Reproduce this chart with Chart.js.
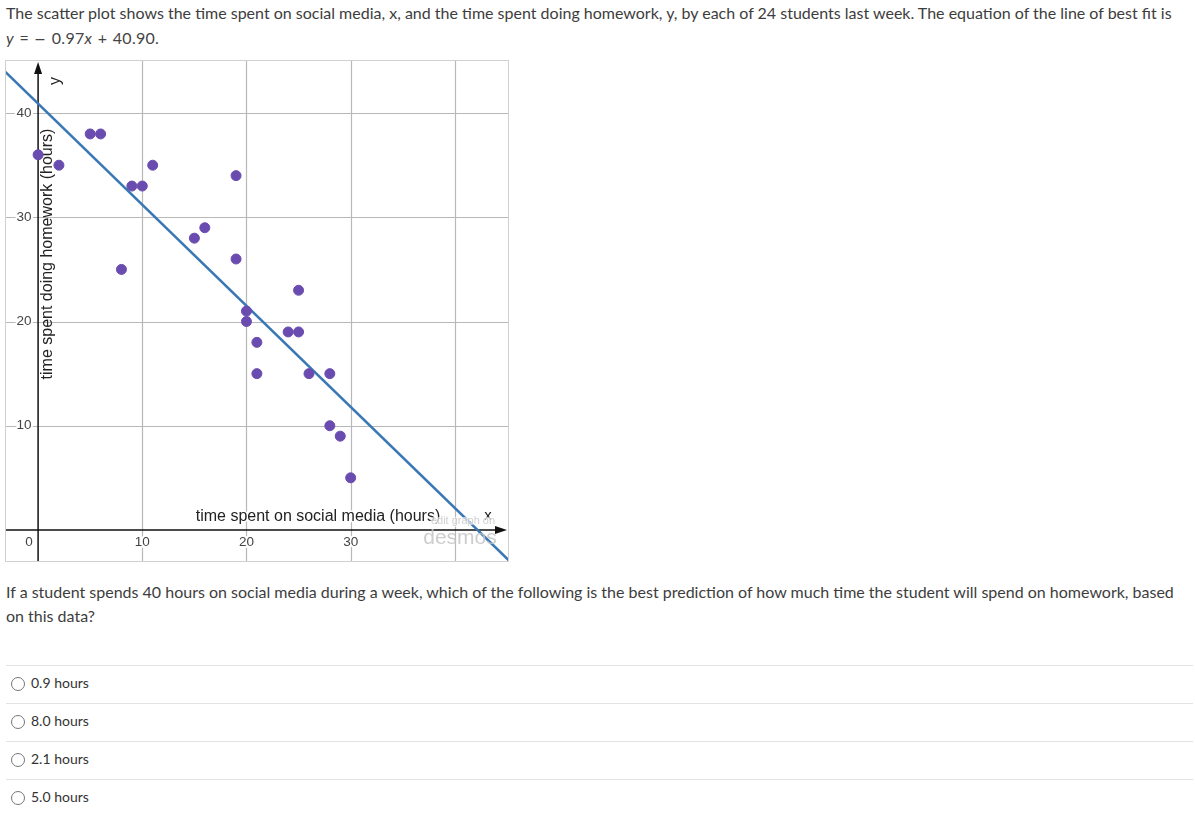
<!DOCTYPE html>
<html>
<head>
<meta charset="utf-8">
<script src="https://cdn.jsdelivr.net/npm/chart.js@4"></script>
<style>
body { margin:0; font-family: Lato, "Open Sans", sans-serif; color:#3d3d3d; font-size:16px; background:#fff; }
.prompt { position:absolute; left:6px; top:0px; width:1185px; line-height:25px; }
.prompt .eq { font-size:16px; word-spacing:1px; letter-spacing:0.3px; color:#444; }
.prompt .eq .m { font-family:"DejaVu Sans", sans-serif; font-size:14px; }
.graph { position:absolute; left:5px; top:60px; width:502px; height:500px; border:1px solid #d0d0d0; }
.question { position:absolute; left:6px; top:580px; width:1185px; line-height:24px; }
.opts { position:absolute; left:6px; top:665px; width:1187px; }
.opt { height:37px; border-top:1px solid #e3e3e3; position:relative; font-size:14px; }
.opt span.c { position:absolute; left:5px; top:11px; width:12px; height:12px; border:1px solid #777; border-radius:50%; }
.opt span.t { position:absolute; left:25px; top:8px; color:#333; }
</style>
</head>
<body>
<div class="prompt">The scatter plot shows the time spent on social media, x, and the time spent doing homework, y, by each of 24 students last week. The equation of the line of best fit is<br><span class="eq"><i>y</i> = <span class="m">−</span> 0.97<i>x</i> + 40.90.</span></div>
<div class="graph"><canvas id="c" width="502" height="500"></canvas></div>
<div class="question">If a student spends 40 hours on social media during a week, which of the following is the best prediction of how much time the student will spend on homework, based on this data?</div>
<div class="opts">
  <div class="opt"><span class="c"></span><span class="t">0.9 hours</span></div>
  <div class="opt"><span class="c"></span><span class="t">8.0 hours</span></div>
  <div class="opt"><span class="c"></span><span class="t">2.1 hours</span></div>
  <div class="opt"><span class="c"></span><span class="t">5.0 hours</span></div>
</div>
<script>
// data
let socialHours = [0, 2, 5, 6, 8, 9, 10, 11, 15, 16, 19, 19, 20, 20, 21, 21, 24, 25, 25, 26, 28, 28, 29, 30];
let homeworkHours = [36, 35, 38, 38, 25, 33, 33, 35, 28, 29, 34, 26, 21, 20, 18, 15, 19, 19, 23, 15, 15, 10, 9, 5];
let slope = -0.97;
let intercept = 40.90;
let lineEndsX = [-4, 46];
let gridX = [10, 20, 30, 40];
let gridY = [10, 20, 30, 40];
let xTickLabels = ['0', '10', '20', '30'];
let yTickLabels = ['10', '20', '30', '40'];

let pts = socialHours.map(function (x, i) { return { x: x, y: homeworkHours[i] }; });
let fitLine = lineEndsX.map(function (x) { return { x: x, y: slope * x + intercept }; });

const labelFont = '13.5px "Liberation Sans", Arial, sans-serif';

function haloText(ctx, txt, x, y, font, color, w) {
    ctx.font = font;
    if (w !== 0) {
        ctx.lineWidth = w || 4;
        ctx.strokeStyle = '#fff';
        ctx.lineJoin = 'round';
        ctx.strokeText(txt, x, y);
    }
    ctx.fillStyle = color;
    ctx.fillText(txt, x, y);
}

const desmosBits = {
    id: 'desmosBits',
    beforeDatasetsDraw: function (chart) {
        const ctx = chart.ctx;
        const xs = chart.scales.x, ys = chart.scales.y;
        const a = chart.chartArea;
        const x0 = xs.getPixelForValue(0), y0 = ys.getPixelForValue(0);
        ctx.save();
        // grid
        ctx.strokeStyle = '#b8b8b8';
        ctx.lineWidth = 1.2;
        ctx.beginPath();
        gridX.forEach(function (v) {
            const p = Math.round(xs.getPixelForValue(v)) + 0.5;
            ctx.moveTo(p, a.top); ctx.lineTo(p, a.bottom);
        });
        gridY.forEach(function (v) {
            const p = Math.round(ys.getPixelForValue(v)) + 0.5;
            ctx.moveTo(a.left, p); ctx.lineTo(a.right, p);
        });
        ctx.stroke();

        // tick labels
        ctx.textBaseline = 'middle';
        ctx.textAlign = 'center';
        yTickLabels.forEach(function (t) {
            haloText(ctx, t, x0 - 14, ys.getPixelForValue(Number(t)), labelFont, '#444');
        });
        xTickLabels.forEach(function (t) {
            let px = xs.getPixelForValue(Number(t));
            if (t === '0') px = x0 - 9;
            haloText(ctx, t, px, y0 + 12, labelFont, '#444');
        });

        // axis titles
        const tf = '16px "Liberation Sans", Arial, sans-serif';
        haloText(ctx, 'time spent on social media (hours)', 312, y0 - 13, tf, '#222', 3);
        ctx.save();
        ctx.translate(x0 + 10, 254 - 61);
        ctx.rotate(-Math.PI / 2);
        haloText(ctx, 'time spent doing homework (hours)', 0, 0, tf, '#222', 0);
        ctx.restore();
        ctx.save();
        ctx.translate(x0 + 18, 20);
        ctx.rotate(-Math.PI / 2);
        haloText(ctx, 'y', 0, 0, tf, '#222', 3);
        ctx.restore();
        haloText(ctx, 'x', a.right - 20, y0 - 14, '15px "Liberation Sans", Arial, sans-serif', '#222', 3);

        // axes
        ctx.strokeStyle = '#111';
        ctx.fillStyle = '#111';
        ctx.lineWidth = 1.5;
        ctx.beginPath();
        ctx.moveTo(x0, a.bottom); ctx.lineTo(x0, a.top + 6);
        ctx.moveTo(a.left, y0); ctx.lineTo(a.right - 6, y0);
        ctx.stroke();
        ctx.beginPath();
        ctx.moveTo(x0, a.top + 1); ctx.lineTo(x0 - 4, a.top + 13); ctx.lineTo(x0 + 4, a.top + 13); ctx.closePath();
        ctx.fill();
        ctx.beginPath();
        ctx.moveTo(a.right - 1, y0); ctx.lineTo(a.right - 13, y0 - 4); ctx.lineTo(a.right - 13, y0 + 4); ctx.closePath();
        ctx.fill();
        ctx.restore();
    },
    afterDatasetsDraw: function (chart) {
        const ctx = chart.ctx;
        const a = chart.chartArea;
        ctx.save();
        ctx.textAlign = 'center';
        ctx.textBaseline = 'middle';
        ctx.globalAlpha = 0.7;
        haloText(ctx, 'edit graph on', a.right - 45, a.bottom - 40, '11px "Liberation Sans", Arial, sans-serif', '#bbb', 2);
        ctx.globalAlpha = 0.85;
        ctx.font = '21px "Liberation Sans", Arial, sans-serif';
        ctx.fillStyle = '#c4c4c4';
        ctx.fillText('desmos', a.right - 48, a.bottom - 23);
        ctx.restore();
    }
};

const ctx = document.getElementById('c').getContext('2d');
new Chart(ctx, {
    type: 'scatter',
    data: {
        datasets: [
            {
                label: 'students',
                data: pts,
                backgroundColor: '#6a4cb0',
                borderColor: '#6a4cb0',
                pointRadius: 5,
                pointHoverRadius: 5,
                order: 1
            },
            {
                type: 'line',
                label: 'best fit',
                data: fitLine,
                borderColor: '#3a78b5',
                borderWidth: 2.5,
                pointRadius: 0,
                fill: false,
                order: 2
            }
        ]
    },
    options: {
        responsive: false,
        animation: false,
        layout: { padding: 0, autoPadding: false },
        plugins: { legend: { display: false }, tooltip: { enabled: false } },
        scales: {
            x: { type: 'linear', display: false, min: -3.08, max: 45.1 },
            y: { type: 'linear', display: false, min: -2.98, max: 45.0 }
        }
    },
    plugins: [desmosBits]
});
</script>
</body>
</html>
